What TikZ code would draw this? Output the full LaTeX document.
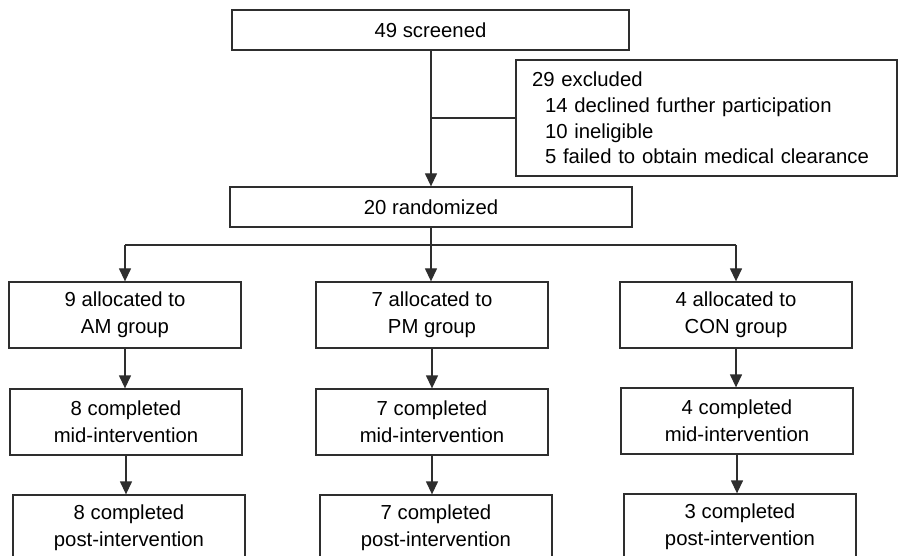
\documentclass[tikz,border=0pt]{standalone}
\usepackage{fontspec}
\setmainfont{Liberation Sans}
\usetikzlibrary{arrows.meta}
\definecolor{ln}{HTML}{2E2E2E}
\begin{document}
\begin{tikzpicture}[x=1pt,y=-1pt,
  box/.style={draw=ln, line width=1.3pt, minimum width=232pt, minimum height=66pt,
    align=center, inner sep=0pt, text=black, font=\fontsize{20.3}{27}\selectfont},
  arr/.style={draw=ln, line width=1.3pt, -{Triangle[length=13pt,width=12pt]}},
  conn/.style={draw=ln, line width=1.3pt}]
\clip (0,0) rectangle (903,556);
\fill[white] (0,0) rectangle (903,556);
% boxes
\node[box, minimum width=397pt, minimum height=40pt] (scr) at (430.5,30) {49 screened};
\node[box, minimum width=381pt, minimum height=116pt, text width=349pt, align=left,
  inner xsep=16pt, font=\fontsize{20.3}{25.7}\selectfont] (exc) at (706.5,118)
  {29 excluded\\\hspace*{13pt}14 declined further participation\\\hspace*{13pt}10 ineligible\\\hspace*{13pt}5 failed to obtain medical clearance};
\node[box, minimum width=402pt, minimum height=40pt] (ran) at (431,207) {20 randomized};
\node[box] (amg) at (125,315) {9 allocated to\\AM group};
\node[box] (pmg) at (432,315) {7 allocated to\\PM group};
\node[box] (cong) at (736,315) {4 allocated to\\CON group};
\node[box] (amm) at (126,422) {8 completed\\mid-intervention};
\node[box] (pmm) at (432,422) {7 completed\\mid-intervention};
\node[box] (conm) at (737,421) {4 completed\\mid-intervention};
\node[box] (amp) at (129,528) {8 completed\\post-intervention};
\node[box] (pmp) at (436,528) {7 completed\\post-intervention};
\node[box] (conp) at (740,527) {3 completed\\post-intervention};
% connectors
\draw[arr] (scr.south -| ran.north) -- (ran.north);
\coordinate (j1) at (ran.north |- exc.west);
\draw[conn] (j1) -- (exc.west);
\draw[arr] (ran.south) -- (ran.south |- pmg.north);
\coordinate (split) at (431,245);
\draw[conn] (amg.north |- split) -- (cong.north |- split);
\draw[arr] (amg.north |- split) -- (amg.north);
\draw[arr] (cong.north |- split) -- (cong.north);
\draw[arr] (amg.south) -- (amg.south |- amm.north);
\draw[arr] (pmg.south) -- (pmg.south |- pmm.north);
\draw[arr] (cong.south) -- (cong.south |- conm.north);
\draw[arr] (amm.south) -- (amm.south |- amp.north);
\draw[arr] (pmm.south) -- (pmm.south |- pmp.north);
\draw[arr] (conm.south) -- (conm.south |- conp.north);
\end{tikzpicture}
\end{document}
